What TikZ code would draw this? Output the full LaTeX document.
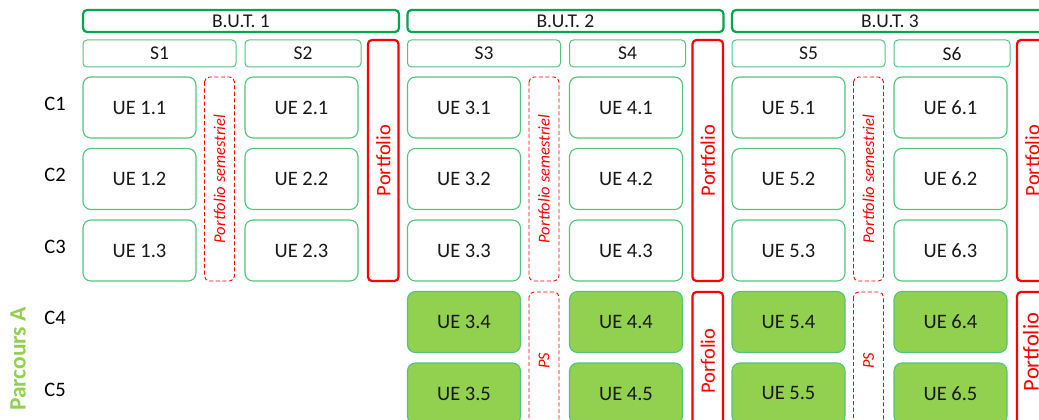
\documentclass[tikz,border=0pt]{standalone}
\usepackage{fontspec}
\setmainfont{Carlito}
\usepackage{tikz}

\definecolor{butgreen}{RGB}{0,166,80}
\definecolor{uegreen}{RGB}{80,196,125}
\definecolor{parcgreen}{RGB}{146,208,80}
\definecolor{portred}{RGB}{255,0,0}

\newcommand{\fsz}[1]{\fontsize{#1}{#1}\selectfont}

\begin{document}
\begin{tikzpicture}[x=1pt,y=-1pt,
  box/.style={inner sep=0pt,outer sep=0pt,text=black!90},
  year/.style={box,draw=butgreen,line width=2.2pt,rounded corners=4pt,anchor=north west,minimum width=316pt,minimum height=22pt,font=\fsz{19.5}},
  sem/.style={box,draw=uegreen,line width=1pt,rounded corners=4pt,anchor=north west,minimum height=27pt,font=\fsz{19.5}},
  ue/.style={box,draw=uegreen,line width=1.1pt,rounded corners=8pt,anchor=north west,minimum width=113pt,minimum height=61pt,font=\fsz{20.5}},
  uepar/.style={ue,fill=parcgreen},
  port/.style={box,draw=portred,text=portred,line width=2.2pt,rounded corners=4pt,rotate=90,minimum height=30.5pt,font=\fsz{20.5}},
  semport/.style={box,draw=portred,text=portred,line width=0.9pt,dash pattern=on 4pt off 2.5pt,rounded corners=5pt,rotate=90,minimum height=30pt,font=\itshape\fsz{16.5}}]
\useasboundingbox (0,0) rectangle (1039,420);
\clip (0,0) rectangle (1039,420);

% rows
\foreach \c in {1,...,5}
  \node[font=\fsz{20.5}] (c\c) at (55,{103.5+71.5*(\c-1)}) {C\c};
\node[rotate=90,font=\bfseries\fsz{23.5},text=parcgreen] (parcA) at (18,359) {Parcours A};

% tronc commun
\foreach \y [count=\k from 0] in {1,2,3}{
  \pgfmathsetmacro{\xo}{83+324.5*\k}
  \pgfmathtruncatemacro{\sa}{2*\y-1}
  \pgfmathtruncatemacro{\sb}{2*\y}
  \node[year] (but\y) at (\xo,10) {B.U.T. \y};
  \node[sem,minimum width=153pt] (s\sa) at (\xo,40) {S\sa};
  \node[sem,minimum width=116pt] (s\sb) at (\xo+162,40) {S\sb};
  \foreach \c in {1,2,3}{
    \node[ue] (ue\sa\c) at (\xo,{77+71.5*(\c-1)}) {UE \sa.\c};
    \node[ue] (ue\sb\c) at (\xo+162,{77+71.5*(\c-1)}) {UE \sb.\c};
  }
  \node[semport,minimum width=204pt] (ps\sa) at (\xo+136.5,179) {Portfolio semestriel};
  \node[port,minimum width=241pt] (pf\y) at (\xo+300.25,160.5) {Portfolio};
}

% parcours A
\foreach \y [count=\k from 1] in {2,3}{
  \pgfmathsetmacro{\xo}{83+324.5*\k}
  \pgfmathtruncatemacro{\sa}{2*\y-1}
  \pgfmathtruncatemacro{\sb}{2*\y}
  \foreach \c in {4,5}{
    \node[uepar] (ue\sa\c) at (\xo,{77+71.5*(\c-1)}) {UE \sa.\c};
    \node[uepar] (ue\sb\c) at (\xo+162,{77+71.5*(\c-1)}) {UE \sb.\c};
  }
  \node[semport,minimum width=138pt] (pp\sa) at (\xo+136.5,361) {PS};
}
\node[port,minimum width=138pt] (pfa2) at (707.75,361) {Porfolio};
\node[port,minimum width=138pt] (pfa3) at (1032.25,361) {};
\node[rotate=90,text=portred,font=\fsz{22.5}] (pfa3t) at (1031,352) {Portfolio};
\end{tikzpicture}
\end{document}
